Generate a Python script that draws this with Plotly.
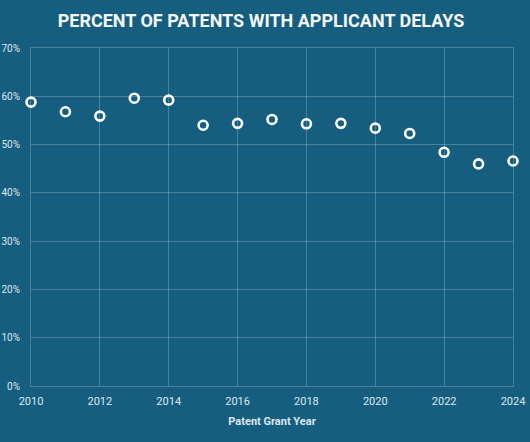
import plotly.graph_objects as go

years = list(range(2010, 2025))
pct = [58.8, 56.8, 55.9, 59.6, 59.2, 54.0, 54.4, 55.2, 54.3, 54.4, 53.4, 52.3, 48.4, 46.0, 46.6]
x_ticks = [2010, 2012, 2014, 2016, 2018, 2020, 2022, 2024]
y_ticks = [0, 10, 20, 30, 40, 50, 60, 70]
y_labels = [f"{v}%" for v in y_ticks]

bg = "#155e80"
grid = "rgba(255,255,255,0.22)"
txt = "#dfe8ee"

fig = go.Figure()
fig.add_trace(go.Scatter(
    x=years, y=pct, mode="markers", cliponaxis=False,
    marker=dict(symbol="circle-open", size=9, color="white", line=dict(width=2.6, color="white")),
    hoverinfo="x+y",
))
fig.update_layout(
    width=530, height=442,
    paper_bgcolor=bg, plot_bgcolor=bg,
    margin=dict(l=31, r=17, t=48, b=56, autoexpand=False),
    showlegend=False,
    title=dict(text="<b>PERCENT OF PATENTS WITH APPLICANT DELAYS</b>", x=261 / 530, xanchor="center",
               xref="container", y=1 - 21 / 442, yref="container", yanchor="middle", automargin=False,
               font=dict(family="Roboto", size=18, color="#f4f7f9")),
    font=dict(family="Roboto", color=txt),
    xaxis=dict(range=[2010, 2024], tickvals=x_ticks, ticktext=[str(v) for v in x_ticks],
               automargin=False,
               showgrid=True, gridcolor=grid, gridwidth=1, zeroline=False,
               showline=True, linecolor=grid, mirror=True,
               tickfont=dict(size=11, color=txt), ticks="", ticklabelstandoff=5,
               title=dict(text="<b>Patent Grant Year</b>", font=dict(size=11, color=txt), standoff=10)),
    yaxis=dict(range=[0, 70], tickvals=y_ticks, ticktext=y_labels, automargin=False,
               showgrid=True, gridcolor=grid, gridwidth=1, zeroline=False,
               showline=True, linecolor=grid, mirror=True,
               tickfont=dict(size=10, color=txt), ticks="", ticklabelstandoff=8),
)
fig.write_html("out.html", config={"displayModeBar": False},
               post_script="document.body.style.margin='0';document.body.style.background='%s';" % bg)
